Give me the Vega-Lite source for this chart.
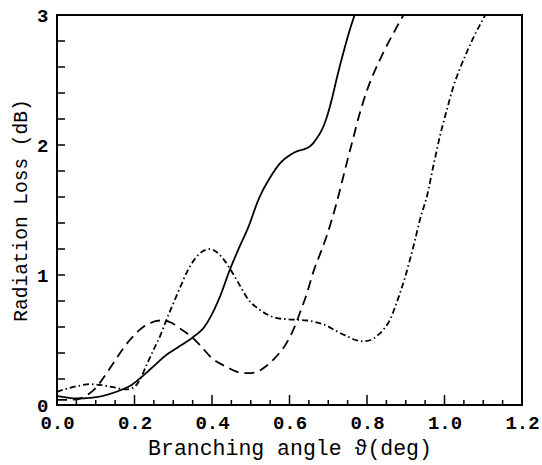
{
  "$schema": "https://vega.github.io/schema/vega-lite/v6.json",
  "width": 465,
  "height": 390,
  "autosize": {"type": "none"},
  "padding": {"left": 57, "top": 15, "right": 20, "bottom": 60},
  "config": {
    "view": {"stroke": "black", "strokeWidth": 2},
    "axis": {
      "domain": false,
      "grid": false,
      "ticks": false,
      "labelColor": "black",
      "labelFont": "Liberation Mono",
      "labelFontWeight": "bold",
      "labelFontSize": 19,
      "labelFlush": false,
      "labelOverlap": false,
      "titleColor": "black",
      "titleFont": "Liberation Mono",
      "titleFontWeight": "normal"
    }
  },
  "datasets": {
    "curves": [
      {"series": "a", "angle": 0.0, "loss": 0.07},
      {"series": "a", "angle": 0.02, "loss": 0.06},
      {"series": "a", "angle": 0.05, "loss": 0.05},
      {"series": "a", "angle": 0.1, "loss": 0.06},
      {"series": "a", "angle": 0.13, "loss": 0.08},
      {"series": "a", "angle": 0.16, "loss": 0.11},
      {"series": "a", "angle": 0.19, "loss": 0.15},
      {"series": "a", "angle": 0.22, "loss": 0.22},
      {"series": "a", "angle": 0.25, "loss": 0.3},
      {"series": "a", "angle": 0.28, "loss": 0.38},
      {"series": "a", "angle": 0.31, "loss": 0.44},
      {"series": "a", "angle": 0.35, "loss": 0.52},
      {"series": "a", "angle": 0.38, "loss": 0.6},
      {"series": "a", "angle": 0.4, "loss": 0.7},
      {"series": "a", "angle": 0.42, "loss": 0.83},
      {"series": "a", "angle": 0.446, "loss": 1.04},
      {"series": "a", "angle": 0.47, "loss": 1.21},
      {"series": "a", "angle": 0.494, "loss": 1.37},
      {"series": "a", "angle": 0.52, "loss": 1.58},
      {"series": "a", "angle": 0.55, "loss": 1.75},
      {"series": "a", "angle": 0.576, "loss": 1.86},
      {"series": "a", "angle": 0.6, "loss": 1.92},
      {"series": "a", "angle": 0.618, "loss": 1.95},
      {"series": "a", "angle": 0.64, "loss": 1.97},
      {"series": "a", "angle": 0.653, "loss": 1.99},
      {"series": "a", "angle": 0.67, "loss": 2.05},
      {"series": "a", "angle": 0.687, "loss": 2.14},
      {"series": "a", "angle": 0.7, "loss": 2.25},
      {"series": "a", "angle": 0.709, "loss": 2.35},
      {"series": "a", "angle": 0.725, "loss": 2.55},
      {"series": "a", "angle": 0.739, "loss": 2.71},
      {"series": "a", "angle": 0.755, "loss": 2.88},
      {"series": "a", "angle": 0.768, "loss": 3.0},
      {"series": "b", "angle": 0.0, "loss": 0.04},
      {"series": "b", "angle": 0.03, "loss": 0.04},
      {"series": "b", "angle": 0.06, "loss": 0.05},
      {"series": "b", "angle": 0.08, "loss": 0.08},
      {"series": "b", "angle": 0.1, "loss": 0.13},
      {"series": "b", "angle": 0.12, "loss": 0.21},
      {"series": "b", "angle": 0.145, "loss": 0.32},
      {"series": "b", "angle": 0.165, "loss": 0.41},
      {"series": "b", "angle": 0.188, "loss": 0.5},
      {"series": "b", "angle": 0.214, "loss": 0.58},
      {"series": "b", "angle": 0.24, "loss": 0.63},
      {"series": "b", "angle": 0.266, "loss": 0.65},
      {"series": "b", "angle": 0.29, "loss": 0.64},
      {"series": "b", "angle": 0.317, "loss": 0.59},
      {"series": "b", "angle": 0.345, "loss": 0.53},
      {"series": "b", "angle": 0.369, "loss": 0.46},
      {"series": "b", "angle": 0.4, "loss": 0.36},
      {"series": "b", "angle": 0.42, "loss": 0.32},
      {"series": "b", "angle": 0.44, "loss": 0.29},
      {"series": "b", "angle": 0.46, "loss": 0.26},
      {"series": "b", "angle": 0.48, "loss": 0.245},
      {"series": "b", "angle": 0.5, "loss": 0.245},
      {"series": "b", "angle": 0.52, "loss": 0.26},
      {"series": "b", "angle": 0.54, "loss": 0.3},
      {"series": "b", "angle": 0.565, "loss": 0.37},
      {"series": "b", "angle": 0.593, "loss": 0.48},
      {"series": "b", "angle": 0.61, "loss": 0.58},
      {"series": "b", "angle": 0.627, "loss": 0.71},
      {"series": "b", "angle": 0.645, "loss": 0.86},
      {"series": "b", "angle": 0.661, "loss": 1.02},
      {"series": "b", "angle": 0.68, "loss": 1.17},
      {"series": "b", "angle": 0.696, "loss": 1.3},
      {"series": "b", "angle": 0.722, "loss": 1.56},
      {"series": "b", "angle": 0.745, "loss": 1.83},
      {"series": "b", "angle": 0.765, "loss": 2.06},
      {"series": "b", "angle": 0.78, "loss": 2.23},
      {"series": "b", "angle": 0.8, "loss": 2.42},
      {"series": "b", "angle": 0.82, "loss": 2.57},
      {"series": "b", "angle": 0.842, "loss": 2.71},
      {"series": "b", "angle": 0.87, "loss": 2.87},
      {"series": "b", "angle": 0.894, "loss": 3.0},
      {"series": "c", "angle": 0.0, "loss": 0.1},
      {"series": "c", "angle": 0.03, "loss": 0.13},
      {"series": "c", "angle": 0.06, "loss": 0.15},
      {"series": "c", "angle": 0.085, "loss": 0.16},
      {"series": "c", "angle": 0.11, "loss": 0.155},
      {"series": "c", "angle": 0.14, "loss": 0.14},
      {"series": "c", "angle": 0.18, "loss": 0.12},
      {"series": "c", "angle": 0.2, "loss": 0.14},
      {"series": "c", "angle": 0.215, "loss": 0.2},
      {"series": "c", "angle": 0.23, "loss": 0.3},
      {"series": "c", "angle": 0.25, "loss": 0.43},
      {"series": "c", "angle": 0.266, "loss": 0.53},
      {"series": "c", "angle": 0.283, "loss": 0.66},
      {"series": "c", "angle": 0.3, "loss": 0.78},
      {"series": "c", "angle": 0.32, "loss": 0.92},
      {"series": "c", "angle": 0.335, "loss": 1.02},
      {"series": "c", "angle": 0.355, "loss": 1.12},
      {"series": "c", "angle": 0.375, "loss": 1.18},
      {"series": "c", "angle": 0.395, "loss": 1.2},
      {"series": "c", "angle": 0.41, "loss": 1.18},
      {"series": "c", "angle": 0.43, "loss": 1.12},
      {"series": "c", "angle": 0.446, "loss": 1.05},
      {"series": "c", "angle": 0.47, "loss": 0.93},
      {"series": "c", "angle": 0.494, "loss": 0.81},
      {"series": "c", "angle": 0.52, "loss": 0.74},
      {"series": "c", "angle": 0.54, "loss": 0.7},
      {"series": "c", "angle": 0.565, "loss": 0.67},
      {"series": "c", "angle": 0.593, "loss": 0.66},
      {"series": "c", "angle": 0.62, "loss": 0.655},
      {"series": "c", "angle": 0.645, "loss": 0.65},
      {"series": "c", "angle": 0.67, "loss": 0.635},
      {"series": "c", "angle": 0.696, "loss": 0.61},
      {"series": "c", "angle": 0.72, "loss": 0.57},
      {"series": "c", "angle": 0.748, "loss": 0.53},
      {"series": "c", "angle": 0.77, "loss": 0.5},
      {"series": "c", "angle": 0.791, "loss": 0.49},
      {"series": "c", "angle": 0.81, "loss": 0.5},
      {"series": "c", "angle": 0.825, "loss": 0.53},
      {"series": "c", "angle": 0.845, "loss": 0.59},
      {"series": "c", "angle": 0.86, "loss": 0.66},
      {"series": "c", "angle": 0.872, "loss": 0.75},
      {"series": "c", "angle": 0.885, "loss": 0.86},
      {"series": "c", "angle": 0.898, "loss": 0.98},
      {"series": "c", "angle": 0.911, "loss": 1.12},
      {"series": "c", "angle": 0.924, "loss": 1.27},
      {"series": "c", "angle": 0.937, "loss": 1.43},
      {"series": "c", "angle": 0.955, "loss": 1.61},
      {"series": "c", "angle": 0.972, "loss": 1.85},
      {"series": "c", "angle": 0.99, "loss": 2.09},
      {"series": "c", "angle": 1.007, "loss": 2.28},
      {"series": "c", "angle": 1.023, "loss": 2.45},
      {"series": "c", "angle": 1.04, "loss": 2.59},
      {"series": "c", "angle": 1.057, "loss": 2.71},
      {"series": "c", "angle": 1.08, "loss": 2.86},
      {"series": "c", "angle": 1.1, "loss": 2.97},
      {"series": "c", "angle": 1.105, "loss": 3.0}
    ],
    "xmajor": [
      {"angle": 0.2}, {"angle": 0.4}, {"angle": 0.6}, {"angle": 0.8}, {"angle": 1.0}
    ],
    "xminor": [
      {"angle": 0.05}, {"angle": 0.1}, {"angle": 0.15}, {"angle": 0.25}, {"angle": 0.3}, {"angle": 0.35},
      {"angle": 0.45}, {"angle": 0.5}, {"angle": 0.55}, {"angle": 0.65}, {"angle": 0.7}, {"angle": 0.75},
      {"angle": 0.85}, {"angle": 0.9}, {"angle": 0.95}, {"angle": 1.05}, {"angle": 1.1}, {"angle": 1.15}
    ],
    "yticks": [
      {"loss": 0.2}, {"loss": 0.4}, {"loss": 0.6}, {"loss": 0.8}, {"loss": 1.0}, {"loss": 1.2}, {"loss": 1.4},
      {"loss": 1.6}, {"loss": 1.8}, {"loss": 2.0}, {"loss": 2.2}, {"loss": 2.4}, {"loss": 2.6}, {"loss": 2.8}
    ]
  },
  "layer": [
    {
      "data": {"name": "curves"},
      "mark": {"type": "line", "interpolate": "monotone", "color": "black", "strokeWidth": 1.8, "clip": true},
      "encoding": {
        "x": {
          "field": "angle", "type": "quantitative",
          "scale": {"domain": [0, 1.2], "nice": false, "zero": false},
          "axis": {"orient": "bottom", "values": [0, 0.2, 0.4, 0.6, 0.8, 1.0, 1.2], "tickCount": 100, "labelExpr": "format(datum.value, '.1f')", "labelPadding": 8, "title": "Branching angle ϑ(deg)", "titleFontSize": 21.5, "titlePadding": 5}
        },
        "y": {
          "field": "loss", "type": "quantitative",
          "scale": {"domain": [0, 3], "nice": false, "zero": false},
          "axis": {"orient": "left", "values": [0, 1, 2, 3], "tickCount": 100, "labelExpr": "format(datum.value, 'd')", "labelPadding": 9, "title": "Radiation Loss (dB)", "titleFontSize": 19.5, "titlePadding": 6}
        },
        "strokeDash": {
          "field": "series", "type": "nominal",
          "scale": {"domain": ["a", "b", "c"], "range": [[1, 0], [10, 6], [6, 3, 1.5, 3]]},
          "legend": null
        }
      }
    },
    {
      "data": {"name": "xmajor"},
      "mark": {"type": "tick", "orient": "vertical", "color": "black", "size": 10, "thickness": 1.5, "yOffset": -5, "opacity": 1},
      "encoding": {
        "x": {
          "field": "angle", "type": "quantitative",
          "scale": {"domain": [0, 1.2], "nice": false, "zero": false},
          "axis": {"orient": "bottom", "values": [0, 0.2, 0.4, 0.6, 0.8, 1.0, 1.2], "tickCount": 100, "labelExpr": "format(datum.value, '.1f')", "labelPadding": 8, "title": "Branching angle ϑ(deg)", "titleFontSize": 21.5, "titlePadding": 5}
        },
        "y": {
          "datum": 0, "type": "quantitative",
          "scale": {"domain": [0, 3], "nice": false, "zero": false},
          "axis": {"orient": "left", "values": [0, 1, 2, 3], "tickCount": 100, "labelExpr": "format(datum.value, 'd')", "labelPadding": 9, "title": "Radiation Loss (dB)", "titleFontSize": 19.5, "titlePadding": 6}
        }
      }
    },
    {
      "data": {"name": "xminor"},
      "mark": {"type": "tick", "orient": "vertical", "color": "black", "size": 5, "thickness": 1.5, "yOffset": -2.5, "opacity": 1},
      "encoding": {
        "x": {
          "field": "angle", "type": "quantitative",
          "scale": {"domain": [0, 1.2], "nice": false, "zero": false},
          "axis": {"orient": "bottom", "values": [0, 0.2, 0.4, 0.6, 0.8, 1.0, 1.2], "tickCount": 100, "labelExpr": "format(datum.value, '.1f')", "labelPadding": 8, "title": "Branching angle ϑ(deg)", "titleFontSize": 21.5, "titlePadding": 5}
        },
        "y": {
          "datum": 0, "type": "quantitative",
          "scale": {"domain": [0, 3], "nice": false, "zero": false},
          "axis": {"orient": "left", "values": [0, 1, 2, 3], "tickCount": 100, "labelExpr": "format(datum.value, 'd')", "labelPadding": 9, "title": "Radiation Loss (dB)", "titleFontSize": 19.5, "titlePadding": 6}
        }
      }
    },
    {
      "data": {"name": "yticks"},
      "mark": {"type": "tick", "orient": "horizontal", "color": "black", "size": 8, "thickness": 1.5, "xOffset": 4, "opacity": 1},
      "encoding": {
        "x": {
          "datum": 0, "type": "quantitative",
          "scale": {"domain": [0, 1.2], "nice": false, "zero": false},
          "axis": {"orient": "bottom", "values": [0, 0.2, 0.4, 0.6, 0.8, 1.0, 1.2], "tickCount": 100, "labelExpr": "format(datum.value, '.1f')", "labelPadding": 8, "title": "Branching angle ϑ(deg)", "titleFontSize": 21.5, "titlePadding": 5}
        },
        "y": {
          "field": "loss", "type": "quantitative",
          "scale": {"domain": [0, 3], "nice": false, "zero": false},
          "axis": {"orient": "left", "values": [0, 1, 2, 3], "tickCount": 100, "labelExpr": "format(datum.value, 'd')", "labelPadding": 9, "title": "Radiation Loss (dB)", "titleFontSize": 19.5, "titlePadding": 6}
        }
      }
    }
  ]
}
